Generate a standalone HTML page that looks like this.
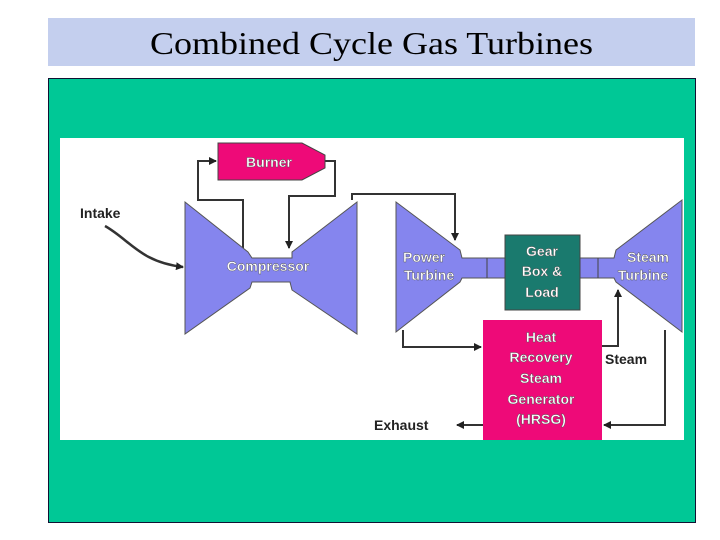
<!DOCTYPE html>
<html><head><style>
html,body{margin:0;padding:0;background:#fff;width:720px;height:540px;overflow:hidden}
</style></head><body>
<svg width="720" height="540" xmlns="http://www.w3.org/2000/svg" font-family="Liberation Sans, sans-serif">
<defs>
<marker id="a" markerWidth="8" markerHeight="8" refX="7" refY="4" orient="auto" markerUnits="userSpaceOnUse"><path d="M0,0 L8,4 L0,8 z" fill="#222"/></marker>
</defs>
<rect x="48" y="18" width="647" height="48" fill="#c4cfee"/>
<text x="150" y="54" font-family="Liberation Serif, serif" font-size="32" textLength="443" lengthAdjust="spacingAndGlyphs" fill="#000">Combined Cycle Gas Turbines</text>
<rect x="48.5" y="78.5" width="647" height="444" fill="#00c896" stroke="#113" stroke-width="1"/>
<rect x="60" y="138" width="624" height="302" fill="#fff"/>
<g stroke="#333" stroke-width="2" fill="none">
<polyline points="243,252 243,200 198,200 198,161 216,161" marker-end="url(#a)"/>
<polyline points="325,161 335,161 335,196 289,196 289,248" marker-end="url(#a)"/>
<polyline points="352,200 352,194 455,194 455,240" marker-end="url(#a)"/>
<polyline points="403,330 403,347 481,347" marker-end="url(#a)"/>
<polyline points="602,346 618,346 618,290" marker-end="url(#a)"/>
<polyline points="665,330 665,425 604,425" marker-end="url(#a)"/>
<polyline points="483,425 457,425" marker-end="url(#a)"/>
<path d="M105,226 C130,240 140,262 183,267" marker-end="url(#a)" stroke-width="2.5"/>
</g>
<g fill="#8585ee" stroke="#555" stroke-width="1">
<polygon points="185,202 248,252 252,258 252,258 292,258 292,252 357,202 357,334 292,290 290,282 252,282 250,288 185,334"/>
<polygon points="396,202 460,250 462,258 505,258 505,278 462,278 460,282 396,332"/>
<polygon points="682,200 616,250 614,258 580,258 580,278 614,278 616,282 682,332"/>
</g>
<line x1="487" y1="258" x2="487" y2="278" stroke="#444"/>
<line x1="598" y1="258" x2="598" y2="278" stroke="#444"/>
<rect x="505" y="235" width="75" height="75" fill="#1a7a6e" stroke="#444"/>
<rect x="483" y="320" width="119" height="120" fill="#ee0a78"/>
<polygon points="218,143 302,143 325,155 325,168 302,180 218,180" fill="#ee0a78" stroke="#444"/>
<g font-weight="bold" font-size="14" fill="#fff" stroke="#555" stroke-width="0.4" text-anchor="middle">
<text x="269" y="167">Burner</text>
<text x="268" y="271">Compressor</text>
<text x="424" y="262">Power</text>
<text x="429" y="280">Turbine</text>
<text x="542" y="256">Gear</text>
<text x="542" y="276">Box &amp;</text>
<text x="542" y="297">Load</text>
<text x="648" y="262">Steam</text>
<text x="643" y="280">Turbine</text>
<text x="541" y="342">Heat</text>
<text x="541" y="362">Recovery</text>
<text x="541" y="383">Steam</text>
<text x="541" y="404">Generator</text>
<text x="541" y="424">(HRSG)</text>
</g>
<g font-weight="bold" font-size="14" fill="#222">
<text x="80" y="218">Intake</text>
<text x="605" y="364">Steam</text>
<text x="374" y="430">Exhaust</text>
</g>
</svg>
</body></html>
